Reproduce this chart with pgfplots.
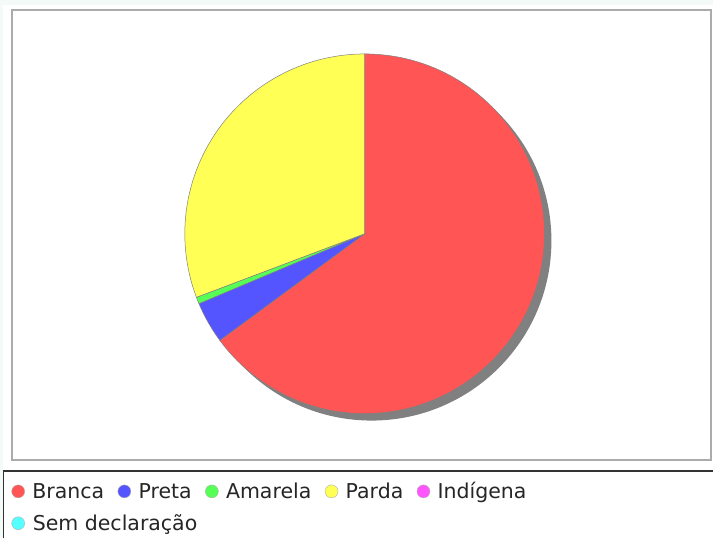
\documentclass[border=0pt]{standalone}
\usepackage{pgfplots}
\pgfplotsset{compat=1.18}
\usepackage{pgfplotstable}
\usepackage{fontspec}
\setmainfont{DejaVu Sans}

\definecolor{jfRed}{HTML}{FF5555}
\definecolor{jfBlue}{HTML}{5555FF}
\definecolor{jfGreen}{HTML}{55FF55}
\definecolor{jfYellow}{HTML}{FFFF55}
\definecolor{jfMagenta}{HTML}{FF55FF}
\definecolor{jfCyan}{HTML}{55FFFF}
\definecolor{bgMint}{HTML}{F3FAF7}
\definecolor{plotBorder}{HTML}{ABABAB}
\definecolor{legendBorder}{HTML}{333333}
\definecolor{sliceEdge}{HTML}{808080}

% share of each group, in percent (clockwise from 12 o'clock)
\pgfplotstableread{
label value colour
Branca 64.90 jfRed
Preta 3.75 jfBlue
Amarela 0.60 jfGreen
Parda 30.75 jfYellow
Indigena 0 jfMagenta
Sem 0 jfCyan
}\pietable

\begin{document}
\begin{tikzpicture}
\begin{axis}[
  x=1pt, y=1pt,
  xmin=0, xmax=714, ymin=0, ymax=539,
  y dir=reverse,
  scale only axis, hide axis, clip=false,
  legend columns=5,
  legend cell align=left,
  legend image code/.code={\filldraw[#1, draw=gray!60, line width=0.4pt] (6.5pt,7pt) circle (6.5pt);},
  legend style={
    draw=none, fill=none, inner sep=0pt, outer sep=0pt,
    at={(axis cs:11.5,482.5)}, anchor=north west,
    font=\fontsize{20.5}{24}\selectfont,
    row sep=14.5pt,
    nodes={inner sep=0pt, anchor=base west, text=black!85},
    /tikz/every odd column/.append style={column sep=7.5pt},
    /tikz/every even column/.append style={column sep=13.5pt},
  },
]
\fill[bgMint] (axis cs:0,0) rectangle (axis cs:714,539);
\fill[white] (axis cs:3,5) rectangle (axis cs:714,539);
\draw[plotBorder, line width=2pt] (axis cs:12,10) rectangle (axis cs:712,460);
\draw[legendBorder, line width=1.5pt] (axis cs:3.75,539) -- (axis cs:3.75,471.5) -- (axis cs:714,471.5);

% shadow
\fill[sliceEdge] (axis cs:372,241) circle (180pt);

\gdef\angA{90}
\pgfplotstableforeachcolumnelement{value}\of\pietable\as\v{%
  \pgfplotstablegetelem{\pgfplotstablerow}{colour}\of\pietable
  \let\c\pgfplotsretval
  \ifdim\v pt>0pt
    \pgfmathsetmacro\angB{\angA-3.6*\v}%
    \edef\temp{\noexpand\filldraw[fill=\c, draw=sliceEdge, line width=0.5pt]
      (axis cs:365,234) -- ++(\angA:180pt) arc[start angle=\angA, end angle=\angB, radius=180pt] -- cycle;}%
    \temp
    \global\let\angA\angB
  \fi
}

\addlegendimage{jfRed}\addlegendentry{Branca}
\addlegendimage{jfBlue}\addlegendentry{Preta}
\addlegendimage{jfGreen}\addlegendentry{Amarela}
\addlegendimage{jfYellow}\addlegendentry{Parda}
\addlegendimage{jfMagenta}\addlegendentry{Indígena}
\addlegendimage{jfCyan}\addlegendentry{\makebox[0pt][l]{Sem declaração}}
\end{axis}
\end{tikzpicture}
\end{document}
